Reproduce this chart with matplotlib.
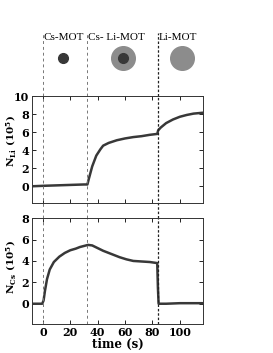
import numpy as np
import matplotlib.pyplot as plt

# phase boundaries (s)
t_phase = [0, 32.5, 84]
phase_labels = ['Cs-MOT', 'Cs- Li-MOT', 'Li-MOT']

# Li atom number (10^5)
t_li = [-8, 0, 10, 20, 30, 32.5, 33.5, 36, 39, 42, 44, 48, 54, 60, 66, 72, 78, 83.5,
        84.2, 86, 90, 95, 100, 105, 110, 117]
n_li = [0.0, 0.05, 0.1, 0.15, 0.2, 0.2, 0.8, 2.2, 3.4, 4.1, 4.5, 4.8, 5.1, 5.3, 5.45, 5.55, 5.7, 5.8,
        6.2, 6.5, 7.0, 7.4, 7.7, 7.9, 8.05, 8.15]

# Cs atom number (10^5)
t_cs = [-8, -0.5, 0.5, 1.5, 3, 5, 8, 12, 16, 20, 24, 27, 30, 33, 36, 40, 44, 47, 52, 56,
        61, 66, 72, 78, 83.5, 84.0, 84.5, 90, 100, 110, 117]
n_cs = [0.0, 0.0, 0.3, 1.2, 2.3, 3.2, 3.9, 4.4, 4.75, 5.0, 5.15, 5.3, 5.4, 5.5, 5.45, 5.2, 4.95, 4.8,
        4.55, 4.35, 4.15, 4.0, 3.95, 3.9, 3.8, 1.5, 0.0, 0.0, 0.05, 0.05, 0.05]

xlim = (-8, 117)
dark = '#383838'
gray = '#8c8c8c'
serif = 'Liberation Serif'
tickfont = 'DejaVu Serif'

plt.rcParams['font.family'] = serif
plt.rcParams['mathtext.fontset'] = 'dejavuserif'
plt.rcParams['xtick.direction'] = 'in'
plt.rcParams['ytick.direction'] = 'in'

fig = plt.figure(figsize=(2.73, 3.53), dpi=100)
ax0 = fig.add_axes([0.117, 0.728, 0.627, 0.1785])
ax1 = fig.add_axes([0.117, 0.425, 0.627, 0.303])
ax2 = fig.add_axes([0.117, 0.082, 0.627, 0.300])

line_styles = [dict(color='#777777', ls=(0, (3, 3)), lw=0.7),
               dict(color='#777777', ls=(0, (3, 3)), lw=0.7),
               dict(color='#222222', ls=(0, (2, 1.5)), lw=0.9)]

# header with MOT cartoons
ax0.set_xlim(*xlim)
ax0.set_ylim(0, 1)
ax0.axis('off')
for tp, lab, st in zip(t_phase, phase_labels, line_styles):
    ax0.axvline(tp, ymin=0, ymax=1, **st)
    ax0.text(tp + 0.8, 0.93, lab, fontsize=8, family=serif, va='center', ha='left')
ax0.plot([14.6], [0.6], 'o', color=dark, ms=7)
ax0.plot([58.4], [0.6], 'o', color=gray, ms=17)
ax0.plot([58.4], [0.6], 'o', color=dark, ms=7)
ax0.plot([101.5], [0.6], 'o', color=gray, ms=17)

gap = -(218 - 203) / (203 - 96)

ax1.plot(t_li, n_li, color=dark, lw=1.8)
ax1.set_ylim(-1.85, 10)
ax1.set_yticks([0, 2, 4, 6, 8, 10])
ax1.set_xticklabels([])
ax1.set_ylabel(r'N$_{\mathbf{Li}}$ (10$^{\mathbf{5}}$)', fontsize=7.5, fontweight='bold',
               family=tickfont)
ax1.yaxis.set_label_coords(-0.08, 0.58)
for tp, st in zip(t_phase, line_styles):
    ax1.axvline(tp, ymin=gap, ymax=1, clip_on=False, **st)

ax2.plot(t_cs, n_cs, color=dark, lw=1.8)
ax2.set_ylim(-1.9, 8)
ax2.set_yticks([0, 2, 4, 6, 8])
ax2.set_ylabel(r'N$_{\mathbf{Cs}}$ (10$^{\mathbf{5}}$)', fontsize=7.5, fontweight='bold',
               family=tickfont)
ax2.yaxis.set_label_coords(-0.08, 0.54)
ax2.set_xlabel('time (s)', fontsize=8.5, fontweight='bold', family=tickfont, labelpad=0)
for tp, st in zip(t_phase, line_styles):
    ax2.axvline(tp, **st)

for ax in (ax1, ax2):
    ax.set_xlim(*xlim)
    ax.set_xticks([0, 20, 40, 60, 80, 100])
    ax.tick_params(top=True, right=True, length=3, width=0.6, labelsize=8, pad=2)
    for lab in ax.get_xticklabels() + ax.get_yticklabels():
        lab.set_fontweight('bold')
        lab.set_family(tickfont)
    for sp in ax.spines.values():
        sp.set_linewidth(0.7)
        sp.set_color('#333333')

fig.savefig('out.png', dpi=100)
